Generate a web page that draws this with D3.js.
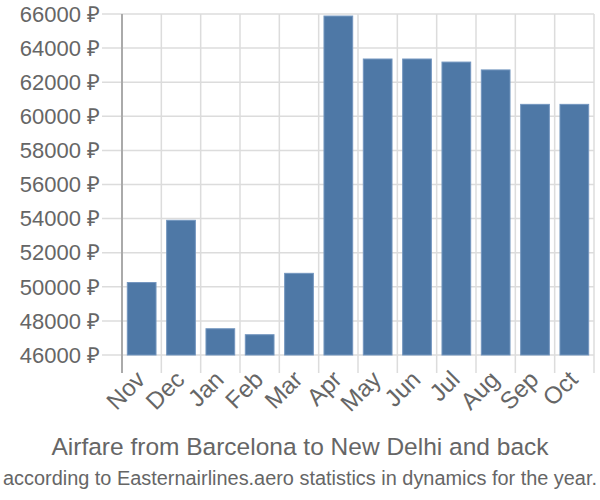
<!DOCTYPE html>
<html>
<head>
<meta charset="utf-8">
<script src="https://cdn.jsdelivr.net/npm/d3@7"></script>
<style>
  body { margin: 0; background: #fff; }
  svg { display: block; }
  text { font-family: "Liberation Sans", Arial, sans-serif; fill: #666; }
</style>
</head>
<body>
<svg id="chart" width="600" height="500"></svg>
<script>
const months = ["Nov","Dec","Jan","Feb","Mar","Apr","May","Jun","Jul","Aug","Sep","Oct"];
const prices = [50250, 53900, 47540, 47190, 50790, 65880, 63360, 63360, 63180, 62720, 60700, 60700];
const yTicks = [46000, 48000, 50000, 52000, 54000, 56000, 58000, 60000, 62000, 64000, 66000];
const title = "Airfare from Barcelona to New Delhi and back";
const subtitle = "according to Easternairlines.aero statistics in dynamics for the year.";

const W = 600, H = 500;
const m = {left: 122, right: 6, top: 14, bottom: 145};
const svg = d3.select("#chart");

const xGrid = d3.scaleBand().domain(months).range([m.left, W - m.right]).padding(0);
const x = d3.scaleBand().domain(months).range([m.left, W - m.right]).paddingInner(0.27).paddingOuter(0.135);
const y = d3.scaleLinear().domain([46000, 66000]).range([H - m.bottom, m.top]);

const g = svg.append("g");

// horizontal grid + y ticks
g.selectAll("line.hg").data(yTicks).join("line")
  .attr("x1", m.left - 20).attr("x2", W - m.right)
  .attr("y1", d => y(d)).attr("y2", d => y(d))
  .attr("stroke", "#dcdcdc").attr("stroke-width", 1.5);

// vertical grid lines at band boundaries
const bounds = months.map(d => xGrid(d)).concat([W - m.right]);
g.selectAll("line.vg").data(bounds.slice(1)).join("line")
  .attr("x1", d => d).attr("x2", d => d)
  .attr("y1", m.top).attr("y2", H - m.bottom + 18)
  .attr("stroke", "#dcdcdc").attr("stroke-width", 1.5);

// bars
g.selectAll("rect.bar").data(prices).join("rect")
  .attr("x", (d, i) => x(months[i]))
  .attr("width", x.bandwidth())
  .attr("y", d => y(d))
  .attr("height", d => y(46000) - y(d))
  .attr("fill", "#4e78a6")
  .attr("stroke", "#7396bf").attr("stroke-width", 1);

// y axis line
g.append("line")
  .attr("x1", m.left).attr("x2", m.left)
  .attr("y1", m.top).attr("y2", H - m.bottom + 18)
  .attr("stroke", "#aaaaaa").attr("stroke-width", 2);

// y labels
g.selectAll("text.yl").data(yTicks).join("text")
  .attr("x", m.left - 22).attr("y", d => y(d))
  .attr("dy", "0.35em")
  .attr("text-anchor", "end")
  .style("font-size", "22px")
  .text(d => d + " \u20BD");

// x labels
g.selectAll("text.xl").data(months).join("text")
  .attr("transform", d => `translate(${xGrid(d) + xGrid.bandwidth() / 2 - 1},${H - m.bottom + 20}) rotate(-45)`)
  .attr("text-anchor", "end")
  .attr("dy", "0.35em")
  .style("font-size", "24px")
  .text(d => d);

// titles
svg.append("text")
  .attr("x", W / 2).attr("y", 455)
  .attr("text-anchor", "middle")
  .style("font-size", "24.5px")
  .text(title);
svg.append("text")
  .attr("x", W / 2).attr("y", 485)
  .attr("text-anchor", "middle")
  .attr("textLength", 594).attr("lengthAdjust", "spacingAndGlyphs")
  .style("font-size", "20px")
  .text(subtitle);
</script>
</body>
</html>
